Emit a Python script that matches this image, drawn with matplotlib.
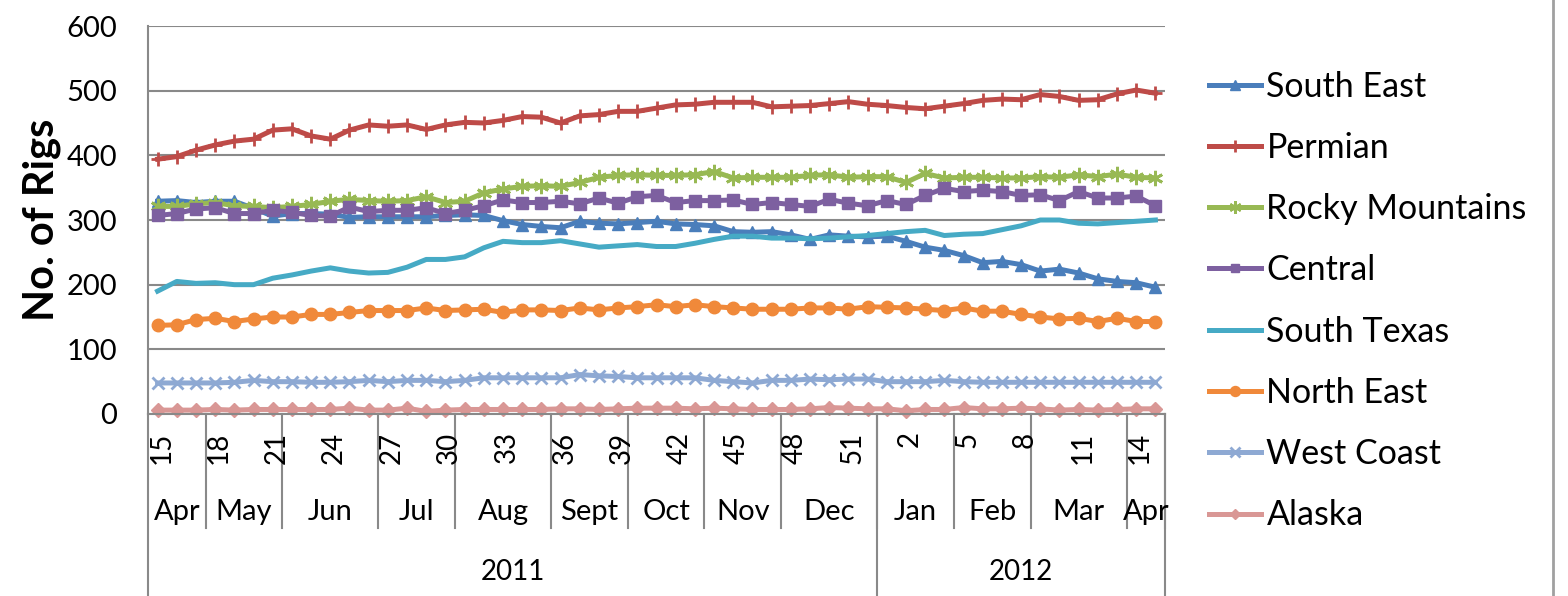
import matplotlib
matplotlib.use("Agg")
import matplotlib.pyplot as plt
import matplotlib.transforms as mtransforms
import numpy as np

plt.rcParams['font.family'] = ['Lato', 'DejaVu Sans']

# week numbers on the category axis (Apr 2011 .. Apr 2012)
weeks = list(range(15, 53)) + list(range(1, 16))
months = ['Apr', 'May', 'Jun', 'Jul', 'Aug', 'Sept', 'Oct', 'Nov', 'Dec',
          'Jan', 'Feb', 'Mar', 'Apr']
month_weeks = [3, 4, 5, 4, 5, 4, 4, 4, 5, 4, 4, 5, 2]
years = ['2011', '2012']
year_weeks = [38, 15]

south_east = [329, 330, 327, 329, 329, 318, 306, 310, 310, 309, 304, 305, 305, 305, 305, 307, 308, 307,
              299, 293, 290, 288, 298, 295, 294, 296, 298, 294, 293, 291, 282, 281, 282, 277, 270, 277,
              275, 274, 275, 267, 258, 253, 245, 234, 236, 231, 221, 224, 218, 209, 205, 203, 196]
permian = [394, 398, 408, 416, 422, 425, 439, 441, 430, 425, 439, 447, 445, 447, 440, 447, 451, 450,
           454, 460, 459, 450, 461, 463, 468, 468, 473, 478, 479, 482, 482, 482, 475, 476, 477, 480,
           483, 479, 477, 474, 472, 476, 480, 485, 487, 486, 494, 491, 485, 486, 495, 501, 496]
rocky = [321, 321, 325, 327, 322, 321, 319, 321, 324, 329, 332, 330, 329, 330, 336, 327, 329, 342,
         348, 352, 353, 352, 358, 366, 369, 370, 369, 369, 370, 375, 365, 366, 366, 366, 369, 370,
         366, 367, 367, 358, 372, 365, 366, 366, 365, 365, 367, 366, 370, 367, 371, 366, 365]
central = [307, 310, 317, 319, 310, 310, 315, 312, 307, 306, 320, 313, 315, 315, 319, 310, 315, 322,
           331, 327, 327, 329, 325, 334, 326, 336, 338, 327, 330, 330, 331, 324, 327, 324, 321, 332,
           326, 322, 330, 324, 338, 349, 344, 346, 344, 338, 339, 330, 344, 334, 334, 337, 322]
south_texas = [190, 205, 202, 203, 200, 200, 210, 215, 221, 226, 221, 218, 219, 227, 239, 239, 243, 257,
               267, 265, 265, 268, 263, 258, 260, 262, 259, 259, 264, 270, 275, 275, 272, 272, 271, 272,
               274, 276, 279, 282, 284, 276, 278, 279, 285, 291, 300, 300, 295, 294, 296, 298, 300]
north_east = [137, 138, 146, 148, 143, 147, 150, 150, 154, 154, 157, 160, 160, 160, 164, 160, 161, 162,
              157, 161, 161, 160, 164, 161, 164, 166, 169, 166, 169, 166, 164, 162, 162, 162, 164, 164,
              162, 166, 165, 164, 162, 160, 164, 159, 159, 154, 150, 147, 148, 143, 148, 143, 143]
west_coast = [48, 48, 48, 48, 49, 52, 50, 50, 49, 49, 50, 52, 50, 52, 52, 50, 52, 56,
              56, 56, 56, 56, 61, 59, 58, 56, 56, 56, 56, 52, 50, 48, 52, 52, 54, 53,
              54, 54, 50, 50, 50, 52, 50, 49, 49, 49, 49, 49, 49, 49, 49, 49, 49]
alaska = [6, 6, 6, 7, 6, 7, 7, 7, 7, 7, 9, 6, 6, 9, 4, 6, 7, 7,
          7, 7, 7, 8, 8, 7, 8, 9, 9, 9, 8, 9, 8, 7, 7, 7, 8, 10,
          9, 8, 8, 5, 7, 7, 10, 8, 8, 9, 8, 6, 7, 6, 7, 8, 8]

series = [
    ('South East', south_east, '#4A7EBB', '^', 9),
    ('Permian', permian, '#BE4B48', '+', 10),
    ('Rocky Mountains', rocky, '#98B954', (6, 2, 0), 11),
    ('Central', central, '#7D60A0', 's', 8),
    ('South Texas', south_texas, '#46AAC5', None, 0),
    ('North East', north_east, '#F0893A', 'o', 9),
    ('West Coast', west_coast, '#8EA9D3', 'x', 9),
    ('Alaska', alaska, '#D99795', 'D', 7),
]

grid_col = '#898989'

fig = plt.figure(figsize=(15.68, 5.96), dpi=100)
ax = fig.add_axes([148 / 1568, 1 - 414 / 596, (1165 - 148) / 1568, 388 / 596])

x = np.arange(len(weeks))
for name, vals, col, mk, ms in series:
    ax.plot(x, vals, color=col, lw=3.6, marker=mk, markersize=ms,
            markeredgewidth=2 if mk in ('+', 'x', (6, 2, 0)) else 1,
            markerfacecolor=col, markeredgecolor=col, label=name,
            solid_joinstyle='round', clip_on=False)

ax.set_xlim(-0.5, len(weeks) - 0.5)
ax.set_ylim(0, 600)
ax.set_yticks(range(0, 601, 100))
ax.tick_params(axis='y', length=0, pad=22, labelsize=21)
ax.set_xticks([])
ax.yaxis.grid(True, color=grid_col, lw=1.5)
ax.set_axisbelow(True)
for s in ['top', 'right', 'bottom']:
    ax.spines[s].set_visible(False)
ax.spines['left'].set_color(grid_col)
ax.spines['left'].set_linewidth(1.5)
ax.set_ylabel('No. of Rigs', fontsize=30, fontweight='bold', labelpad=4)

# multi-level category axis
tr = mtransforms.blended_transform_factory(ax.transData, ax.transAxes)
ax.plot([-0.5, len(weeks) - 0.5], [0, 0], color=grid_col, lw=1.5,
        transform=tr, clip_on=False)
for i, w in enumerate(weeks):
    if i % 3 == 0:
        ax.text(i + 0.2, -0.045, str(w), rotation=90, ha='center', va='top',
                fontsize=20, transform=tr)

y_month = -0.294
y_bottom = -0.475
pos = -0.5
for m, n in zip(months, month_weeks):
    ax.text(pos + n / 2, -0.253, m, ha='center', va='center', fontsize=21,
            transform=tr)
    pos += n
    ax.plot([pos, pos], [0, y_month], color=grid_col, lw=1.5,
            transform=tr, clip_on=False)

pos = -0.5
ax.plot([pos, pos], [0, y_bottom], color=grid_col, lw=1.5,
        transform=tr, clip_on=False)
for yname, n in zip(years, year_weeks):
    ax.text(pos + n / 2, -0.407, yname, ha='center', va='center', fontsize=20,
            transform=tr)
    pos += n
    ax.plot([pos, pos], [0, y_bottom], color=grid_col, lw=1.5,
            transform=tr, clip_on=False)

fig.legend(loc='upper left', bbox_to_anchor=(1195 / 1568, 1 - 57 / 596),
           frameon=False, fontsize=24.5, handlelength=1.55, handletextpad=0.15,
           labelspacing=0.86, borderaxespad=0, markerscale=0.8)

# chart frame edge on the right
fig.add_artist(plt.Line2D([1553 / 1568, 1553 / 1568], [0, 1], color='#A0A0A0',
                          lw=2, transform=fig.transFigure))

fig.savefig('out.png', dpi=100)
